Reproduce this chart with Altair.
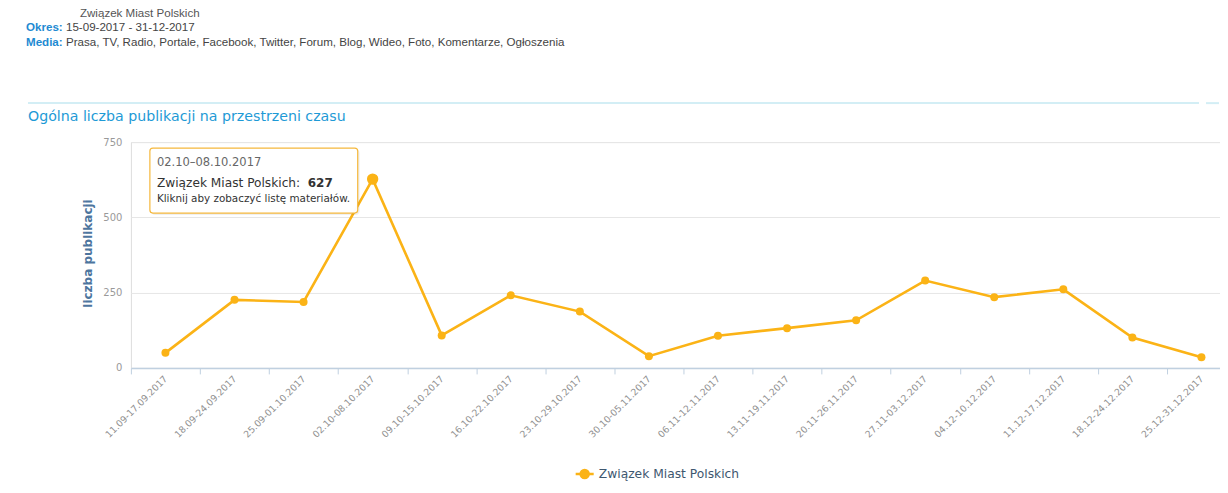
import altair as alt
import pandas as pd

# ---------------- data ----------------
categories = [
    "11.09-17.09.2017", "18.09-24.09.2017", "25.09-01.10.2017", "02.10-08.10.2017",
    "09.10-15.10.2017", "16.10-22.10.2017", "23.10-29.10.2017", "30.10-05.11.2017",
    "06.11-12.11.2017", "13.11-19.11.2017", "20.11-26.11.2017", "27.11-03.12.2017",
    "04.12-10.12.2017", "11.12-17.12.2017", "18.12-24.12.2017", "25.12-31.12.2017",
]
values = [50, 226, 219, 627, 108, 241, 187, 39, 107, 132, 158, 290, 235, 261, 101, 35]
series_name = "Związek Miast Polskich"
y_ticks = [0, 250, 500, 750]

header_org = "Związek Miast Polskich"
header_period_label = "Okres:"
header_period = "15-09-2017 - 31-12-2017"
header_media_label = "Media:"
header_media = "Prasa, TV, Radio, Portale, Facebook, Twitter, Forum, Blog, Wideo, Foto, Komentarze, Ogłoszenia"
chart_title = "Ogólna liczba publikacji na przestrzeni czasu"
y_title = "liczba publikacji"
tooltip_index = 3
tooltip_hint = "Kliknij aby zobaczyć listę materiałów."

ORANGE = "#fbb316"
FONT = "DejaVu Sans"

df = pd.DataFrame({"okres": categories, "liczba": values, "seria": series_name})

x_enc = alt.X(
    "okres:N",
    sort=categories,
    bandPosition=0.5,
    scale=alt.Scale(type="band", range=[0, 1106], paddingInner=0, paddingOuter=0),
    axis=alt.Axis(
        title=None,
        labelAngle=-45,
        labelAlign="right",
        labelBaseline="middle",
        labelFont=FONT,
        labelFontSize=9.3,
        labelColor="#909090",
        labelPadding=3,
        tickBand="extent",
        tickColor="#c0d0e0",
        tickSize=6,
        domainColor="#c0d0e0",
        domainWidth=1.5,
        grid=False,
        labelOverlap=False,
    ),
)
y_enc = alt.Y(
    "liczba:Q",
    scale=alt.Scale(domain=[0, 750], nice=False),
    axis=alt.Axis(
        values=y_ticks,
        title=y_title,
        titleFont=FONT,
        titleFontSize=12,
        titleFontWeight="bold",
        titleColor="#4d759e",
        titleX=-43,
        titleY=111,
        titleAlign="center",
        titleBaseline="middle",
        labelFont=FONT,
        labelFontSize=10,
        labelColor="#999999",
        labelPadding=9,
        domain=False,
        ticks=False,
        grid=True,
        gridColor="#e6e6e6",
    ),
)
color_enc = alt.Color(
    "seria:N",
    scale=alt.Scale(domain=[series_name], range=[ORANGE]),
    legend=alt.Legend(
        title=None,
        orient="none",
        legendX=448,
        legendY=326,
        direction="horizontal",
        symbolType="M-1.9,0L1.9,0M0.85,0A0.85,0.85,0,1,1,-0.85,0A0.85,0.85,0,1,1,0.85,0Z",
        symbolSize=90,
        symbolStrokeWidth=2.5,
        symbolStrokeColor=ORANGE,
        symbolFillColor=ORANGE,
        labelFont=FONT,
        labelFontSize=12.3,
        labelColor="#3e576f",
        labelOffset=8,
    ),
)

line = alt.Chart(df).mark_line(strokeWidth=2.6, color=ORANGE).encode(x=x_enc, y=y_enc)
points = alt.Chart(df).mark_point(filled=True, size=64, opacity=1, color=ORANGE).encode(
    x=x_enc, y=y_enc, color=color_enc
)
hover = alt.Chart(df.iloc[[tooltip_index]]).mark_point(
    filled=True, size=130, opacity=1, color=ORANGE
).encode(x=alt.X("okres:N", sort=categories, bandPosition=0.5), y="liczba:Q")


def text_layer(txt, x, y, size, color, weight="normal", font=FONT, align="left"):
    return alt.Chart(pd.DataFrame({"t": [txt]})).mark_text(
        align=align, baseline="middle", font=font, fontSize=size, color=color, fontWeight=weight
    ).encode(text="t:N", x=alt.value(x), y=alt.value(y))


hf = "Liberation Sans"
HS = 11.6
header = (
    text_layer(header_org, -51, -128, HS, "#555555", font=hf)
    + text_layer(header_period_label, -105, -114, HS, "#1e8ad2", "bold", hf)
    + text_layer(header_period, -65, -114, HS, "#444444", font=hf)
    + text_layer(header_media_label, -105, -99, HS, "#1e8ad2", "bold", hf)
    + text_layer(header_media, -65, -99, HS, "#444444", font=hf)
    + text_layer(chart_title, -103, -25, 14.2, "#1e9ad6")
)

sep = alt.Chart(pd.DataFrame({"a": [0]})).mark_rule(color="#d3eef5", strokeWidth=2).encode(
    x=alt.value(-103), x2=alt.value(1069), y=alt.value(-39)
) + alt.Chart(pd.DataFrame({"a": [0]})).mark_rule(
    color="#d3eef5", strokeWidth=2
).encode(x=alt.value(1076), x2=alt.value(1089), y=alt.value(-39))

# tooltip
tip_cat = categories[tooltip_index].replace("-", "–")
tip_shadow = alt.Chart(pd.DataFrame({"a": [0]})).mark_rect(
    fill="#000000", fillOpacity=0.06, cornerRadius=4
).encode(x=alt.value(20), x2=alt.value(229), y=alt.value(7), y2=alt.value(73))
tip_box = alt.Chart(pd.DataFrame({"a": [0]})).mark_rect(
    fill="white", fillOpacity=0.97, stroke="#f5b83c", strokeWidth=1.2, cornerRadius=3
).encode(x=alt.value(19), x2=alt.value(227), y=alt.value(6), y2=alt.value(71))
tip = (
    tip_shadow
    + tip_box
    + text_layer(tip_cat, 26, 21, 11.5, "#666666")
    + text_layer(series_name + ":", 26, 41, 12.2, "#333333")
    + text_layer(str(values[tooltip_index]), 177, 41, 12, "#333333", "bold")
    + text_layer(tooltip_hint, 26, 57, 10.4, "#333333")
)

chart = (
    alt.layer(sep, header, line, points, hover, tip)
    .properties(
        width=1090,
        height=226,
        autosize=alt.AutoSizeParams(type="none"),
        padding={"left": 123, "top": 134, "right": 0, "bottom": 116},
    )
    .configure_view(stroke=None)
    .configure(background="white")
)

chart.save("out.html", embed_options={"renderer": "svg", "actions": False})
